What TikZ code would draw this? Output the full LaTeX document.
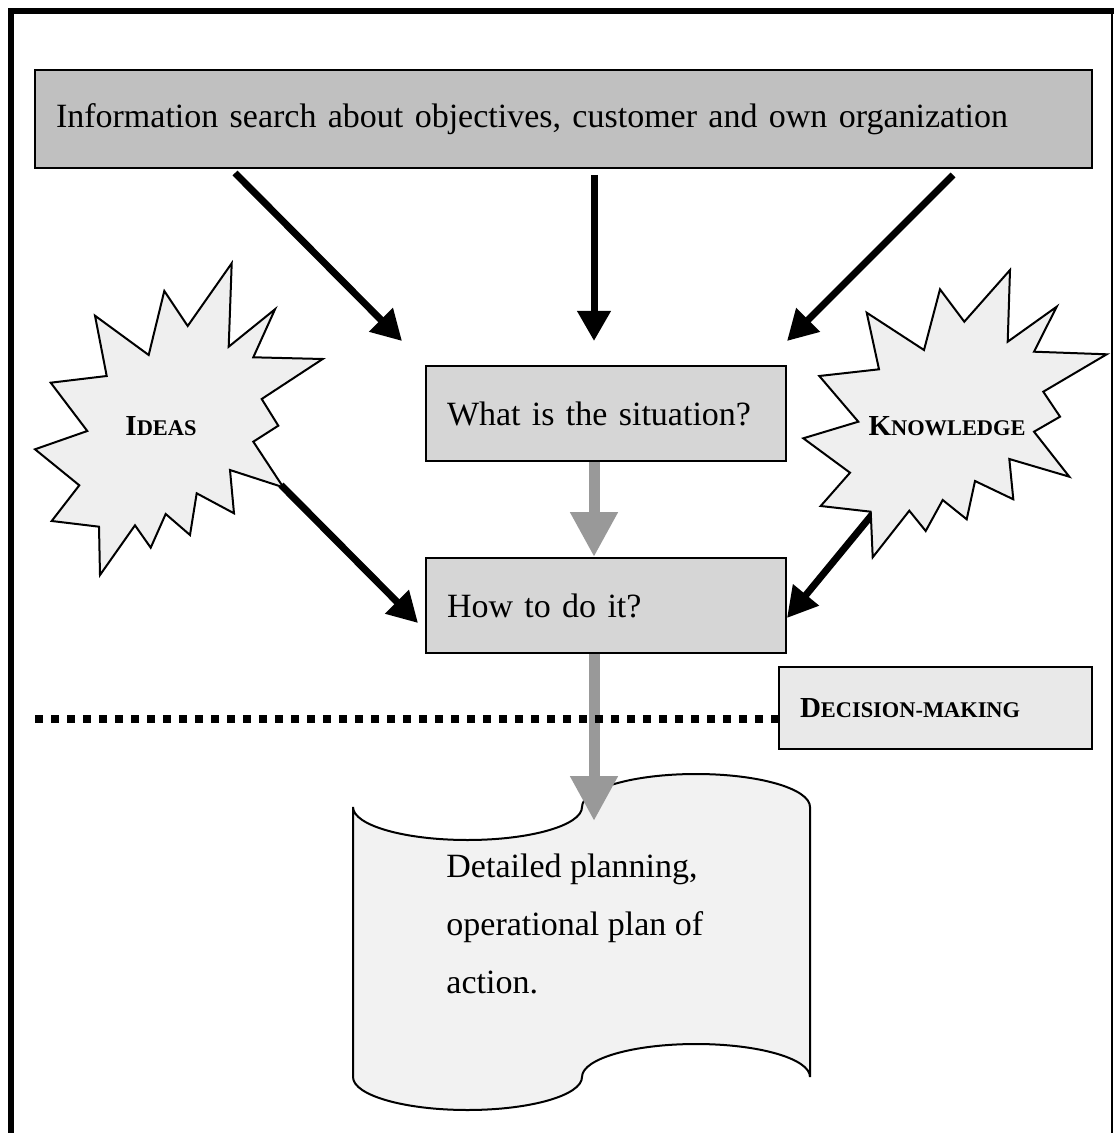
\documentclass[tikz,border=0pt]{standalone}
\usepackage{fontspec}
\setmainfont{Liberation Serif}
\usetikzlibrary{arrows.meta}
\definecolor{topfill}{HTML}{C0C0C0}
\definecolor{boxfill}{HTML}{D6D6D6}
\definecolor{decfill}{HTML}{E9E9E9}
\definecolor{starfill}{HTML}{EFEFEF}
\definecolor{docfill}{HTML}{F2F2F2}
\definecolor{flowgray}{HTML}{999999}
% bold caps-and-small-caps label: first letter full size, rest reduced
\newcommand{\capsmall}[2]{\textbf{#1{\fontsize{11.2}{13}\selectfont #2}}}
\tikzset{
  box/.style={draw=black, line width=1pt, align=left, inner xsep=10.5pt, inner ysep=0pt,
    font=\fontsize{17}{20}\selectfont},
  blackarrow/.style={line width=3.5pt, -{Triangle[length=15pt, width=16pt]}},
  grayarrow/.style={draw=flowgray, line width=5.5pt, -{Triangle[length=22.5pt, width=22.5pt]}},
  burst/.style={draw=black, line width=1pt, fill=starfill, line join=miter},
  bursttext/.style={font=\fontsize{14.5}{17}\selectfont},
  dotline/.style={line width=3.75pt, dash pattern=on 3.75pt off 4.25pt},
  tape/.style={draw=black, line width=1pt, fill=docfill}
}
\begin{document}
\begin{tikzpicture}[x=0.5pt, y=-0.5pt]
\useasboundingbox (0,0) rectangle (1114,1133);
\fill[white] (0,0) rectangle (1114,1133);

% page frame
\draw[line width=3pt] (11,1133) -- (11,11) -- (1114,11);
\draw[line width=1.2pt] (1112,11) -- (1112,1133);

% boxes
\node[box, fill=topfill, text width=507.5pt, minimum height=49pt] (info) at (563.5,119)
  {Information search about objectives, customer and own organization};
\node[box, fill=boxfill, text width=159pt, minimum height=47.5pt] (sit) at (606,413.5)
  {What is the situation?};
\node[box, fill=boxfill, text width=159pt, minimum height=47.5pt] (how) at (606,605.5)
  {How to do it?};

% arrows from the information box
\coordinate (s1) at (235,173);
\coordinate (t1) at (402,341);
\coordinate (s2) at (594,175);
\coordinate (t2) at (594,341);
\coordinate (s3) at (953,175);
\coordinate (t3) at (787,341);
\draw[blackarrow] (s1) -- (t1);
\draw[blackarrow] (s2) -- (t2);
\draw[blackarrow] (s3) -- (t3);

% arrows from the two bursts
\coordinate (ia) at (281,485);
\coordinate (ib) at (418,623);
\coordinate (ka) at (889,494);
\coordinate (kb) at (787,618);
\draw[blackarrow] (ia) -- (ib);
\draw[blackarrow] (ka) -- (kb);

% bursts
\draw[burst] (231.7,263.3) -- (228.7,346.7) -- (275,309.3) -- (253.3,357.3) -- (322.7,359)
  -- (261.7,399) -- (278.3,425.7) -- (253.3,441.7) -- (283.3,487.3) -- (230,470)
  -- (234,513.3) -- (196.7,493.3) -- (190,535) -- (165.7,514) -- (150.7,547.7)
  -- (135,525.3) -- (100,575) -- (99,526.7) -- (51.7,521) -- (79.3,485.3)
  -- (35,449.3) -- (87.3,431) -- (50.7,382.7) -- (106.7,376) -- (95,315.7)
  -- (148.7,355) -- (164.3,291) -- (187.7,326) -- cycle;
\node[bursttext] (ideas) at (161,426) {\capsmall{I}{DEAS}};

\draw[burst] (1010,270) -- (1007.7,341.7) -- (1056.7,306.7) -- (1034,351.7) -- (1106.7,354.3)
  -- (1043.3,391.7) -- (1060,416.7) -- (1034,431.7) -- (1069.3,476.7) -- (1009.3,459)
  -- (1013.3,499.3) -- (975,481) -- (966.7,519.3) -- (942.7,500) -- (925.7,531)
  -- (909.3,510.7) -- (872.7,557.3) -- (870.7,511.7) -- (820.7,506) -- (850,472.7)
  -- (803.3,438.3) -- (858.3,421.7) -- (819.3,376) -- (879,369.3) -- (866.7,312.7)
  -- (924,350) -- (940,289.3) -- (964.3,321.7) -- cycle;
\node[bursttext] (know) at (947,426) {\capsmall{K}{NOWLEDGE}};

% gray flow arrows
\coordinate (gx) at (594,0);
\draw[grayarrow] (sit.south -| gx) -- (how.north -| gx);

% plan document (punched tape outline)
\draw[tape] (353,807) .. controls (353,825.2) and (404.3,840) .. (467.5,840)
  .. controls (530.7,840) and (582,825.2) .. (582,807)
  .. controls (582,788.8) and (633,774) .. (696,774)
  .. controls (759,774) and (810,788.8) .. (810,807)
  -- (810,1077)
  .. controls (810,1058.8) and (759,1044) .. (696,1044)
  .. controls (633,1044) and (582,1058.8) .. (582,1077)
  .. controls (582,1095.2) and (530.7,1110) .. (467.5,1110)
  .. controls (404.3,1110) and (353,1095.2) .. (353,1077) -- cycle;
\node[anchor=base west, align=left, inner sep=0pt, font=\fontsize{17}{29}\selectfont] (plan) at (446,993)
  {Detailed planning,\\operational plan of\\action.};

\coordinate (docin) at (594,821);
\draw[grayarrow] (how.south -| gx) -- (docin);

% decision line and label
\node[box, fill=decfill, text width=135.5pt, minimum height=41pt,
  font=\fontsize{14.5}{17}\selectfont] (dec) at (935.5,708) {\capsmall{D}{ECISION-MAKING}};
\coordinate (dl) at (35,719);
\draw[dotline] (dl) -- (dec.west |- dl);
\end{tikzpicture}
\end{document}
